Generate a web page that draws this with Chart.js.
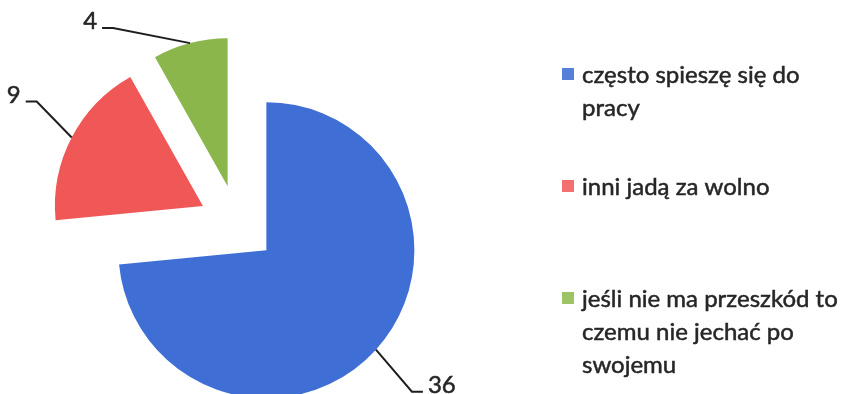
<!DOCTYPE html>
<html>
<head>
<meta charset="utf-8">
<script src="https://cdn.jsdelivr.net/npm/chart.js@4"></script>
<style>
  html, body { margin: 0; padding: 0; background: #fff; }
  #pie-wrap { width: 848px; height: 394px; }
</style>
</head>
<body>
<div id="pie-wrap"><canvas id="pie-chart" width="848" height="394"></canvas></div>
<script>
const categories = [
  'często spieszę się do pracy',
  'inni jadą za wolno',
  'jeśli nie ma przeszkód to czemu nie jechać po swojemu'
];
const answers = [36, 9, 4];

const sliceColors = ['#3f6fd4', '#f05858', '#8ab64c'];
const legendColors = ['#5580d8', '#f47070', '#9cc466'];
const explode = 39;
const textFont = '24px Lato';
const textColor = '#262626';
// where each leader line bends, relative to the edge of its slice
const leaderBends = [[36, 42], [-35, -36], [-77, -15]];

// pull every slice out along its middle angle
const explodePlugin = {
  id: 'explode',
  afterDatasetUpdate(chart, args) {
    args.meta.data.forEach(arc => {
      const mid = (arc.startAngle + arc.endAngle) / 2;
      arc.x += Math.cos(mid) * explode;
      arc.y += Math.sin(mid) * explode;
    });
  }
};

function wrapText(ctx, text, maxWidth) {
  const words = text.split(' ');
  const lines = [];
  let line = '';
  words.forEach(w => {
    const test = line ? line + ' ' + w : w;
    if (line && ctx.measureText(test).width > maxWidth) {
      lines.push(line);
      line = w;
    } else {
      line = test;
    }
  });
  if (line) lines.push(line);
  return lines;
}

// filled text with a hairline stroke so it reads a bit heavier
function drawText(ctx, text, x, y) {
  ctx.fillText(text, x, y);
  ctx.strokeText(text, x, y);
}

// value labels with leader lines, and the legend on the right
const annotatePlugin = {
  id: 'annotate',
  afterDatasetsDraw(chart) {
    const ctx = chart.ctx;
    const arcs = chart.getDatasetMeta(0).data;
    ctx.save();
    ctx.font = textFont;
    ctx.textBaseline = 'alphabetic';

    arcs.forEach((arc, i) => {
      const mid = (arc.startAngle + arc.endAngle) / 2;
      const ax = arc.x + Math.cos(mid) * arc.outerRadius;
      const ay = arc.y + Math.sin(mid) * arc.outerRadius;
      const bx = ax + leaderBends[i][0];
      const by = ay + leaderBends[i][1];
      const dir = Math.cos(mid) < 0 ? -1 : 1;
      const ex = bx + dir * 11;
      ctx.strokeStyle = '#1e1e1e';
      ctx.lineWidth = 2;
      ctx.beginPath();
      ctx.moveTo(ax, ay);
      ctx.lineTo(bx, by);
      ctx.lineTo(ex, by);
      ctx.stroke();
      ctx.fillStyle = textColor;
      ctx.strokeStyle = textColor;
      ctx.lineWidth = 0.5;
      ctx.textAlign = dir < 0 ? 'right' : 'left';
      drawText(ctx, String(answers[i]), ex + dir * 5, by + 1);
    });

    // legend
    ctx.textAlign = 'left';
    ctx.strokeStyle = textColor;
    ctx.lineWidth = 0.5;
    categories.forEach((cat, i) => {
      const base = 83 + i * 112;
      ctx.fillStyle = legendColors[i];
      ctx.fillRect(562, base - 15, 12, 12);
      ctx.fillStyle = textColor;
      wrapText(ctx, cat, 262).forEach((ln, j) => {
        drawText(ctx, ln, 582, base + j * 33);
      });
    });
    ctx.restore();
  }
};

const pieCanvas = document.getElementById('pie-chart');

let pieChart = new Chart(pieCanvas, {
  type: 'pie',
  data: {
    labels: categories,
    datasets: [{
      data: answers,
      backgroundColor: sliceColors,
      borderWidth: 0,
      radius: 148,
      hoverOffset: 0,
      clip: false
    }]
  },
  options: {
    responsive: false,
    animation: false,
    events: [],
    layout: {
      padding: { left: 0, right: 373, top: 54, bottom: 0 }
    },
    plugins: {
      legend: { display: false },
      tooltip: { enabled: false }
    }
  },
  plugins: [explodePlugin, annotatePlugin]
});
</script>
</body>
</html>
